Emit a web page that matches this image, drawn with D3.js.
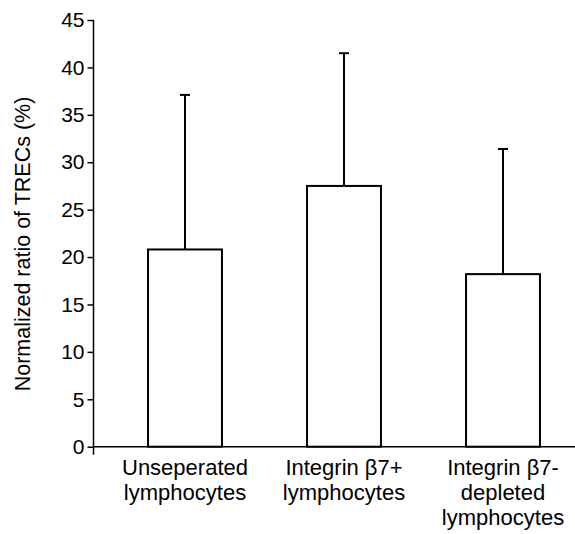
<!DOCTYPE html>
<meta charset="utf-8">
<style>
  body { margin: 0; background: #fff; }
  text { font-family: Arial, "Liberation Sans", sans-serif; fill: #000; }
</style>
<body>
<div id="chart"></div>
<script src="https://d3js.org/d3.v7.min.js"></script>
<script>
  const categories = [
    ["Unseperated", "lymphocytes"],
    ["Integrin \u03b27+", "lymphocytes"],
    ["Integrin \u03b27-", "depleted", "lymphocytes"]
  ];
  const means = [20.8, 27.5, 18.2];
  const errors = [16.3, 14.0, 13.2];
  const yTicks = [0, 5, 10, 15, 20, 25, 30, 35, 40, 45];

  const width = 575, height = 534;
  const axisX = 93.5, y0 = 446.7, y45 = 20;

  const svg = d3.select("#chart").append("svg")
    .attr("width", width)
    .attr("height", height);

  const y = d3.scaleLinear().domain([0, 45]).range([y0, y45]);

  const x = d3.scaleBand()
    .domain(d3.range(categories.length))
    .range([105.5, 582.5])
    .paddingInner(0.535)
    .paddingOuter(0.2675);

  // y axis
  const yAxis = svg.append("g")
    .attr("transform", `translate(${axisX},0)`)
    .call(d3.axisLeft(y).tickValues(yTicks).tickSize(6).tickPadding(3).tickSizeOuter(0));
  yAxis.select(".domain").remove();
  yAxis.selectAll(".tick line").attr("stroke", "#000").attr("stroke-width", 1.5);
  yAxis.selectAll(".tick text").style("font-size", "21px").attr("font-family", null);
  yAxis.append("line")
    .attr("x1", 0).attr("x2", 0)
    .attr("y1", y(45)).attr("y2", y(0) + 8)
    .attr("stroke", "#000").attr("stroke-width", 1.5);

  // x axis line
  svg.append("line")
    .attr("x1", axisX).attr("x2", width)
    .attr("y1", y(0)).attr("y2", y(0))
    .attr("stroke", "#000").attr("stroke-width", 1.5);

  // bars
  svg.selectAll(".bar")
    .data(means)
    .join("rect")
    .attr("class", "bar")
    .attr("x", (d, i) => x(i))
    .attr("y", d => y(d))
    .attr("width", x.bandwidth())
    .attr("height", d => y(0) - y(d))
    .attr("fill", "#fff")
    .attr("stroke", "#000")
    .attr("stroke-width", 2);

  // error bars (upper only)
  const err = svg.selectAll(".err")
    .data(means)
    .join("g")
    .attr("class", "err");
  err.append("line")
    .attr("x1", (d, i) => x(i) + x.bandwidth() / 2)
    .attr("x2", (d, i) => x(i) + x.bandwidth() / 2)
    .attr("y1", d => y(d))
    .attr("y2", (d, i) => y(d + errors[i]))
    .attr("stroke", "#000").attr("stroke-width", 2);
  err.append("line")
    .attr("x1", (d, i) => x(i) + x.bandwidth() / 2 - 5)
    .attr("x2", (d, i) => x(i) + x.bandwidth() / 2 + 5)
    .attr("y1", (d, i) => y(d + errors[i]))
    .attr("y2", (d, i) => y(d + errors[i]))
    .attr("stroke", "#000").attr("stroke-width", 2);

  // category labels
  svg.selectAll(".cat")
    .data(categories)
    .join("text")
    .attr("class", "cat")
    .attr("text-anchor", "middle")
    .style("font-size", "22px")
    .each(function (lines, i) {
      d3.select(this).selectAll("tspan")
        .data(lines)
        .join("tspan")
        .attr("x", x(i) + x.bandwidth() / 2)
        .attr("y", (d, j) => 475 + j * 25)
        .text(d => d);
    });

  // y label
  svg.append("text")
    .attr("transform", `translate(30,${(93 + 395) / 2}) rotate(-90)`)
    .attr("text-anchor", "middle")
    .style("font-size", "21.5px")
    .text("Normalized ratio of TRECs (%)");
</script>
</body>
